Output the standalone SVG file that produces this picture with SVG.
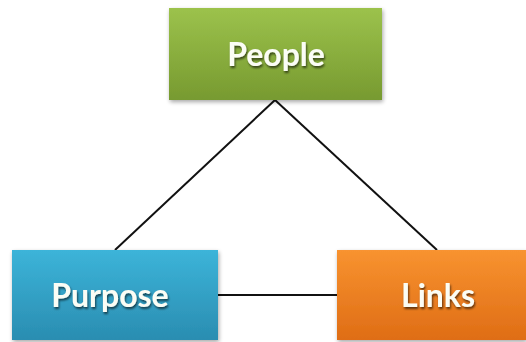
<svg xmlns="http://www.w3.org/2000/svg" width="526" height="342" viewBox="0 0 526 342">
  <defs>
    <linearGradient id="gGreen" x1="0" y1="0" x2="0" y2="1">
      <stop offset="0" stop-color="#9cc24c"/>
      <stop offset="1" stop-color="#779a30"/>
    </linearGradient>
    <linearGradient id="gBlue" x1="0" y1="0" x2="0" y2="1">
      <stop offset="0" stop-color="#3cb4d9"/>
      <stop offset="1" stop-color="#2a8db1"/>
    </linearGradient>
    <linearGradient id="gOrange" x1="0" y1="0" x2="0" y2="1">
      <stop offset="0" stop-color="#f89330"/>
      <stop offset="1" stop-color="#df6d15"/>
    </linearGradient>
    <filter id="boxShadow" x="-10%" y="-10%" width="120%" height="130%">
      <feGaussianBlur in="SourceAlpha" stdDeviation="2"/>
      <feOffset dx="1" dy="2" result="b"/>
      <feComponentTransfer><feFuncA type="linear" slope="0.35"/></feComponentTransfer>
      <feMerge><feMergeNode/><feMergeNode in="SourceGraphic"/></feMerge>
    </filter>
    <filter id="textGlow" x="-20%" y="-30%" width="140%" height="160%">
      <feGaussianBlur in="SourceAlpha" stdDeviation="1.2"/>
      <feOffset dx="1" dy="1.5"/>
      <feComponentTransfer><feFuncA type="linear" slope="0.6"/></feComponentTransfer>
      <feMerge><feMergeNode/><feMergeNode in="SourceGraphic"/></feMerge>
    </filter>
  </defs>
  <style>
    .conn { stroke: #111; stroke-width: 2; fill: none; }
    .label { font-family: "Lato", "Open Sans", "DejaVu Sans", sans-serif; font-weight: bold; font-size: 32px; fill: #fbfdf5; text-anchor: middle; }
  </style>
  <rect width="526" height="342" fill="#ffffff"/>

  <g id="connectors">
    <line class="conn" x1="275" y1="100" x2="115" y2="250"/>
    <line class="conn" x1="275" y1="100" x2="437" y2="250"/>
    <line class="conn" x1="218" y1="295" x2="337" y2="295"/>
  </g>

  <g id="people">
    <rect x="169" y="8" width="213" height="92" fill="url(#gGreen)" filter="url(#boxShadow)"/>
    <text class="label" x="276" y="66" filter="url(#textGlow)">People</text>
  </g>

  <g id="purpose">
    <rect x="12" y="250" width="206" height="90" fill="url(#gBlue)" filter="url(#boxShadow)"/>
    <text class="label" x="110" y="307" filter="url(#textGlow)">Purpose</text>
  </g>

  <g id="links">
    <rect x="337" y="250" width="189" height="90" fill="url(#gOrange)" filter="url(#boxShadow)"/>
    <text class="label" x="438" y="307" filter="url(#textGlow)">Links</text>
  </g>
</svg>
